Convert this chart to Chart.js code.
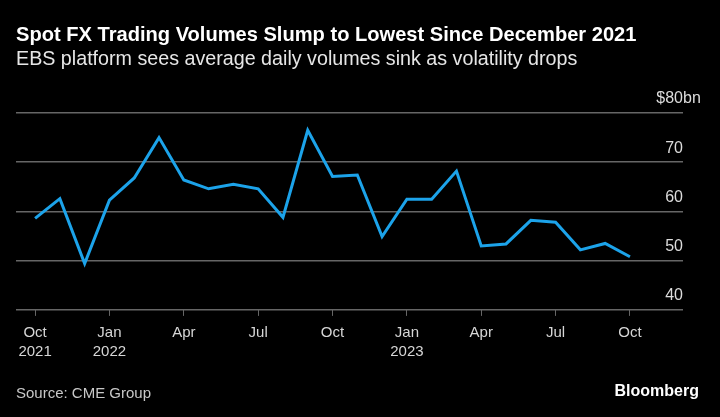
<!DOCTYPE html>
<html>
<head>
<meta charset="utf-8">
<script src="https://cdn.jsdelivr.net/npm/chart.js@4.4.0/dist/chart.umd.min.js"></script>
<style>
  html, body { margin: 0; padding: 0; background: #000; }
  #wrap { position: relative; width: 720px; height: 417px; overflow: hidden; font-family: "Liberation Sans", Arial, sans-serif; }
  #chart { position: absolute; left: 0; top: 0; }
  .title { position: absolute; left: 16px; top: 23px; color: #fff; font-weight: bold; font-size: 20.1px; }
  .subtitle { position: absolute; left: 16px; top: 47px; color: #e6e6e6; font-size: 19.7px; }
  .source { position: absolute; left: 16px; top: 384px; color: #c8c8c8; font-size: 15px; }
  .brand { position: absolute; right: 21px; top: 382px; color: #fff; font-weight: bold; font-size: 16px; }
</style>
</head>
<body>
<div id="wrap">
  <canvas id="chart" width="720" height="417"></canvas>
  <div class="title">Spot FX Trading Volumes Slump to Lowest Since December 2021</div>
  <div class="subtitle">EBS platform sees average daily volumes sink as volatility drops</div>
  <div class="source">Source: CME Group</div>
  <div class="brand">Bloomberg</div>
</div>
<script>
// месяцы Oct 2021 .. Oct 2023, средний дневной объём EBS, $bn
var months = ['2021-10','2021-11','2021-12','2022-01','2022-02','2022-03','2022-04','2022-05','2022-06',
              '2022-07','2022-08','2022-09','2022-10','2022-11','2022-12','2023-01','2023-02','2023-03',
              '2023-04','2023-05','2023-06','2023-07','2023-08','2023-09','2023-10'];
var volumes = [58.6, 62.6, 49.4, 62.3, 66.8, 75.0, 66.4, 64.6, 65.5, 64.6, 58.8, 76.5, 67.1, 67.4,
               54.9, 62.5, 62.5, 68.2, 53.0, 53.4, 58.2, 57.8, 52.2, 53.5, 50.8];

var xTickIdx = [0, 3, 6, 9, 12, 15, 18, 21, 24];
var xTickLabels = [['Oct', '2021'], ['Jan', '2022'], 'Apr', 'Jul', 'Oct', ['Jan', '2023'], 'Apr', 'Jul', 'Oct'];
var yTicks = [40, 50, 60, 70, 80];
var yUnit = ['$', 'bn'];

var GRID = '#666666';
var FONT = '"Liberation Sans", Arial, sans-serif';

var yLabels = {
    id: 'yLabels',
    afterDraw: function(chart) {
        var ctx = chart.ctx, y = chart.scales.y, right = chart.chartArea.right;
        ctx.save();
        ctx.font = '16px ' + FONT;
        ctx.fillStyle = '#dcdcdc';
        ctx.textBaseline = 'middle';
        yTicks.forEach(function(v, i) {
            var py = y.getPixelForValue(v) - 14;
            var last = i === yTicks.length - 1;
            ctx.textAlign = 'right';
            ctx.fillText((last ? yUnit[0] : '') + v, right, py);
            if (last) {
                ctx.textAlign = 'left';
                ctx.fillText(yUnit[1], right, py);
            }
        });
        ctx.restore();
    }
};

new Chart(document.getElementById('chart'), {
    type: 'line',
    data: {
        datasets: [{
            data: volumes.map(function(v, i) { return { x: i, y: v }; }),
            borderColor: '#1ca3ea',
            borderWidth: 3,
            pointRadius: 0,
            tension: 0,
            fill: false,
        }],
    },
    options: {
        responsive: false,
        animation: false,
        layout: { padding: { left: 16, right: 37, top: 113, bottom: 49 } },
        plugins: { legend: { display: false }, tooltip: { enabled: false } },
        scales: {
            x: {
                type: 'linear',
                min: -0.77,
                max: 26.14,
                afterBuildTicks: function(s) { s.ticks = xTickIdx.map(function(v) { return { value: v }; }); },
                grid: { drawOnChartArea: false, drawTicks: true, tickLength: 6, color: GRID },
                border: { display: false },
                ticks: {
                    padding: 7,
                    maxRotation: 0,
                    autoSkip: false,
                    color: '#d6d6d6',
                    font: { family: FONT, size: 15, lineHeight: 1.27 },
                    callback: function(v) { return xTickLabels[xTickIdx.indexOf(v)]; },
                },
            },
            y: {
                position: 'right',
                min: 40,
                max: 80,
                afterBuildTicks: function(s) { s.ticks = yTicks.map(function(v) { return { value: v }; }); },
                grid: { color: GRID, lineWidth: 1.5, drawTicks: false },
                border: { display: false },
                ticks: { display: false },
            },
        },
    },
    plugins: [yLabels],
});
</script>
</body>
</html>
